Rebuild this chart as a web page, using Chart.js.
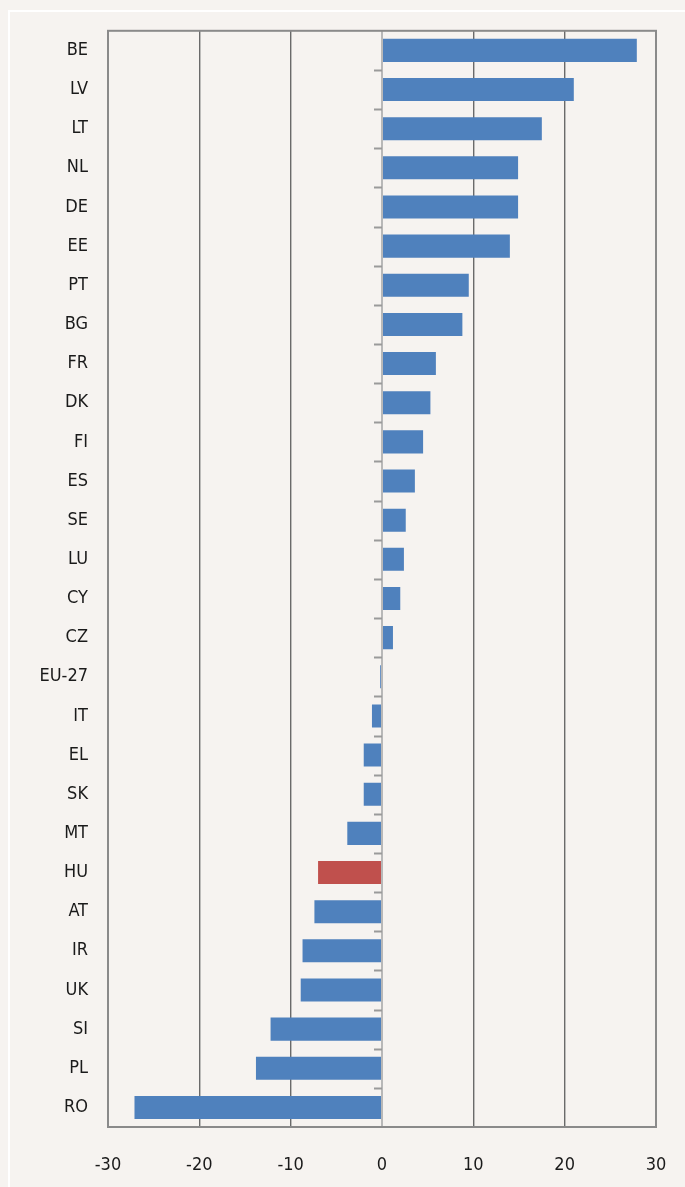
<!DOCTYPE html>
<html>
<head>
<meta charset="utf-8">
<script src="https://cdn.jsdelivr.net/npm/chart.js@4"></script>
<style>
  html, body { margin: 0; padding: 0; background: #f6f3f0; }
  #wrap { position: relative; width: 685px; height: 1187px; }
  #frame { position: absolute; left: 8px; top: 10px; width: 700px; height: 1200px;
           border: 2px solid #ffffff; box-sizing: border-box; }
  canvas { position: absolute; left: 0; top: 0; }
</style>
</head>
<body>
<div id="wrap">
  <div id="frame"></div>
  <canvas id="bars" width="685" height="1187"></canvas>
</div>
<script>
const countries = ["BE","LV","LT","NL","DE","EE","PT","BG","FR","DK","FI","ES","SE","LU",
  "CY","CZ","EU-27","IT","EL","SK","MT","HU","AT","IR","UK","SI","PL","RO"]
const change = [27.9, 21.0, 17.5, 14.9, 14.9, 14.0, 9.5, 8.8, 5.9, 5.3, 4.5, 3.6, 2.6, 2.4,
  2.0, 1.2, -0.2, -1.1, -2.0, -2.0, -3.8, -7.0, -7.4, -8.7, -8.9, -12.2, -13.8, -27.1]
const highlight = "HU"
const xTicks = [-30, -20, -10, 0, 10, 20, 30]

const labelFont = { family: "'DejaVu Sans Condensed', 'DejaVu Sans', sans-serif", size: 18 }

// frame round plot + small ticks on the zero line
const extras = {
  id: "extras",
  afterDatasetsDraw(chart) {
    const ctx = chart.ctx
    const a = chart.chartArea
    const x0 = chart.scales.x.getPixelForValue(0)
    const y = chart.scales.y
    ctx.save()
    ctx.strokeStyle = "#9a9a9a"
    ctx.lineWidth = 2
    for (let i = 0; i < countries.length - 1; i++) {
      let py = Math.round(y.getPixelForValue(i + 0.5)) + 0.5
      ctx.beginPath()
      ctx.moveTo(x0 - 8, py)
      ctx.lineTo(x0, py)
      ctx.stroke()
    }
    ctx.strokeStyle = "#8a8a8a"
    ctx.strokeRect(a.left, a.top, a.right - a.left, a.bottom - a.top)
    ctx.restore()
  }
}

new Chart(document.getElementById("bars"), {
  type: "bar",
  data: {
    labels: countries,
    datasets: [{
      data: change,
      backgroundColor: countries.map(c => c == highlight ? "#c0504d" : "#4f81bd"),
      barPercentage: 0.59,
      categoryPercentage: 1
    }]
  },
  options: {
    indexAxis: "y",
    responsive: false,
    animation: false,
    layout: { padding: { top: 30, right: 29, bottom: 0, left: 0 } },
    plugins: { legend: { display: false }, tooltip: { enabled: false } },
    scales: {
      x: {
        min: -30, max: 30,
        afterBuildTicks(s) { s.ticks = xTicks.map(v => ({ value: v })) },
        afterFit(s) { s.height = 60; s.paddingLeft = 0; s.paddingRight = 0 },
        grid: {
          color: ctx => ctx.tick && ctx.tick.value == 0 ? "#b8b8b8" : "#6a6a6a",
          lineWidth: ctx => ctx.tick && ctx.tick.value == 0 ? 2 : 1.4,
          drawTicks: false
        },
        border: { display: false },
        ticks: { color: "#1a1a1a", font: labelFont, padding: 28 }
      },
      y: {
        afterFit(s) { s.width = 108 },
        grid: { display: false, drawTicks: false },
        border: { display: false },
        ticks: { color: "#1a1a1a", font: labelFont, padding: 20, autoSkip: false }
      }
    }
  },
  plugins: [extras]
})
</script>
</body>
</html>
